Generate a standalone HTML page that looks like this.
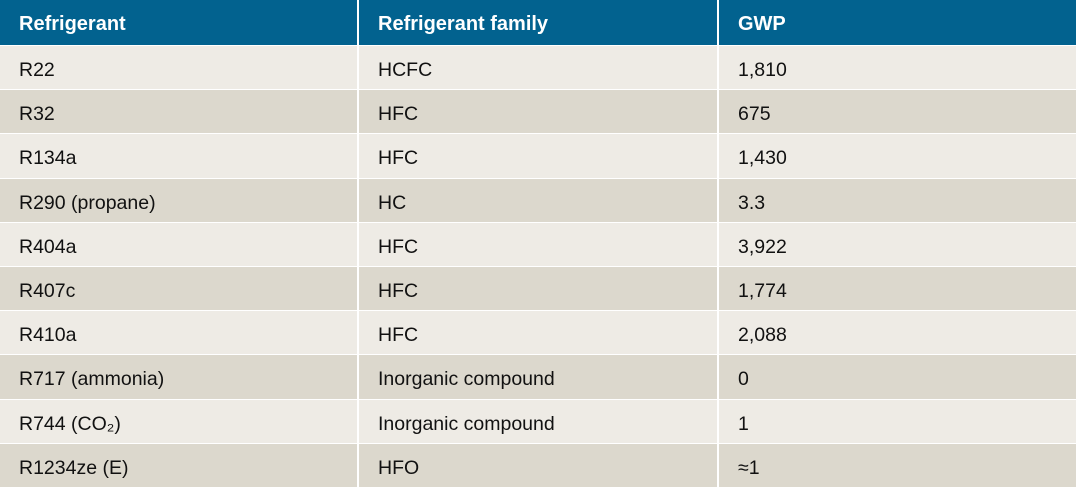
<!DOCTYPE html>
<html><head><meta charset="utf-8"><style>
body{margin:0;width:1076px;height:488px;overflow:hidden;background:#fff;font-family:"Liberation Sans",sans-serif;}
table{border-collapse:collapse;width:1076px;table-layout:fixed;}
td,th{padding:0 0 0 19px;text-align:left;border-left:2px solid #fff;border-top:1px solid #fff;font-size:19.5px;color:#111;white-space:nowrap;}
td:first-child,th:first-child{border-left:none;}
th{background:#02628f;color:#fff;font-weight:bold;height:45px;font-size:20px;border-top:none;}
tr.l td{background:#eeebe5;}
tr.d td{background:#dcd8cd;}
td{height:43.2px;}
td span,th span{position:relative;top:3px;}
th span{top:2px;}
</style></head><body>
<table>
<colgroup><col style="width:358px"><col style="width:360px"><col style="width:358px"></colgroup>
<tr><th><span>Refrigerant</span></th><th><span>Refrigerant family</span></th><th><span>GWP</span></th></tr>
<tr class="l"><td><span>R22</span></td><td><span>HCFC</span></td><td><span>1,810</span></td></tr>
<tr class="d"><td><span>R32</span></td><td><span>HFC</span></td><td><span>675</span></td></tr>
<tr class="l"><td><span>R134a</span></td><td><span>HFC</span></td><td><span>1,430</span></td></tr>
<tr class="d"><td><span>R290 (propane)</span></td><td><span>HC</span></td><td><span>3.3</span></td></tr>
<tr class="l"><td><span>R404a</span></td><td><span>HFC</span></td><td><span>3,922</span></td></tr>
<tr class="d"><td><span>R407c</span></td><td><span>HFC</span></td><td><span>1,774</span></td></tr>
<tr class="l"><td><span>R410a</span></td><td><span>HFC</span></td><td><span>2,088</span></td></tr>
<tr class="d"><td><span>R717 (ammonia)</span></td><td><span>Inorganic compound</span></td><td><span>0</span></td></tr>
<tr class="l"><td><span>R744 (CO₂)</span></td><td><span>Inorganic compound</span></td><td><span>1</span></td></tr>
<tr class="d"><td><span>R1234ze (E)</span></td><td><span>HFO</span></td><td><span>≈1</span></td></tr>
</table>
</body></html>
